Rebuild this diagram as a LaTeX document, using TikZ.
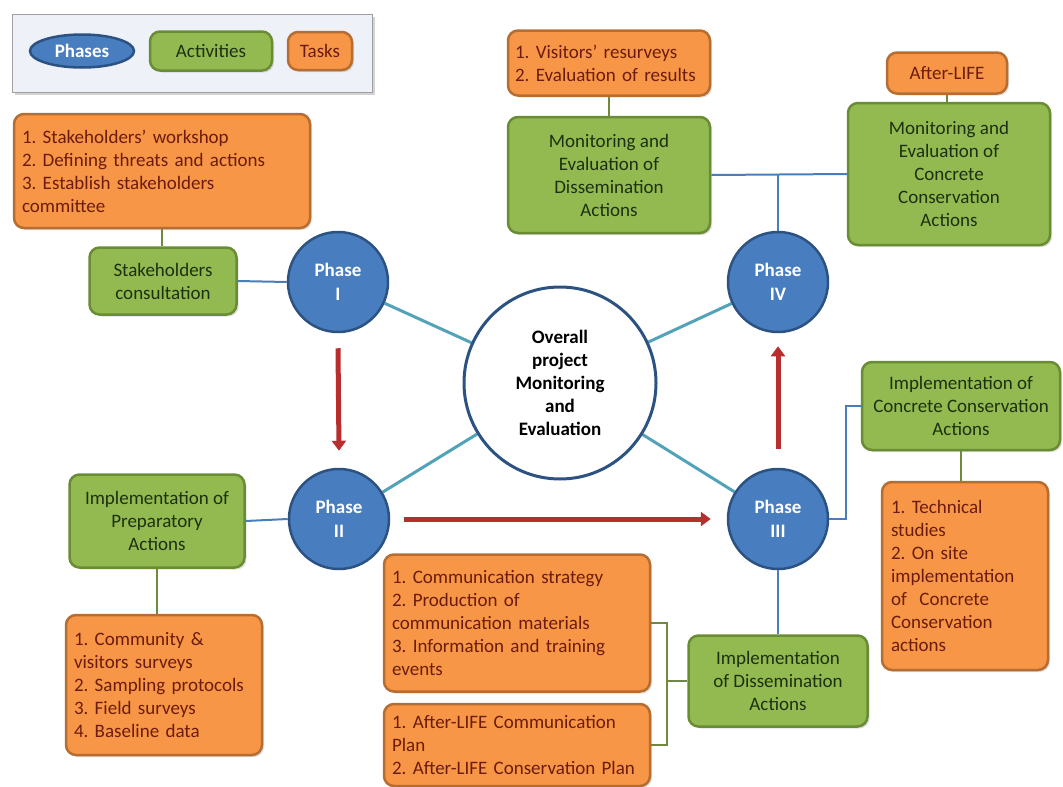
\documentclass[tikz,border=0pt]{standalone}
\usepackage{fontspec}
\setmainfont{Carlito}
\frenchspacing
\usetikzlibrary{arrows.meta,shadows,shapes.geometric,backgrounds}

\definecolor{phasefill}{RGB}{72,126,192}
\definecolor{phaseline}{RGB}{44,82,130}
\definecolor{actfill}{RGB}{146,186,80}
\definecolor{actline}{RGB}{106,140,52}
\definecolor{acttext}{RGB}{30,48,18}
\definecolor{taskfill}{RGB}{247,150,70}
\definecolor{taskline}{RGB}{182,109,49}
\definecolor{tasktext}{RGB}{108,28,14}
\definecolor{hubline}{RGB}{82,162,186}
\definecolor{flowred}{RGB}{184,46,46}
\definecolor{linkblue}{RGB}{74,126,187}
\definecolor{linkgreen}{RGB}{113,137,63}
\definecolor{legendbg}{RGB}{238,241,248}

\begin{document}
\begin{tikzpicture}[x=1pt,y=-1pt,font=\fontsize{19}{23}\selectfont,
  phase node/.style={circle,fill=phasefill,draw=phaseline,line width=2.5pt,
    minimum size=100pt,inner sep=0pt,text=white,font=\fontsize{19}{24}\selectfont\bfseries,
    align=center},
  act node/.style={rounded corners=10pt,fill=actfill,draw=actline,line width=2.5pt,
    text=acttext,align=center,inner sep=2pt,
    drop shadow={opacity=0.25,shadow xshift=2pt,shadow yshift=-2pt}},
  task node/.style={rounded corners=10pt,fill=taskfill,draw=taskline,line width=2.5pt,
    text=tasktext,align=left,inner sep=2pt,
    drop shadow={opacity=0.25,shadow xshift=2pt,shadow yshift=-2pt}},
  link/.style={draw=linkblue,line width=2pt},
  tasklink/.style={draw=linkgreen,line width=2.5pt},
  hub/.style={draw=hubline,line width=3pt},
  flow/.style={draw=flowred,line width=5pt,-{Triangle[length=10pt,width=14pt]}}]

  \useasboundingbox (0,0) rectangle (1063,787);

  % legend
  \node[draw=gray!75,fill=legendbg,line width=1pt,minimum width=360pt,minimum height=78pt,
    drop shadow={opacity=0.35,shadow xshift=3pt,shadow yshift=-3pt}] (legend) at (192,53) {};
  \node[ellipse,fill=phasefill,draw=phaseline,line width=2.5pt,minimum width=104pt,minimum height=33pt,
    inner sep=0pt,text=white,font=\fontsize{19}{20}\selectfont\bfseries] (lgphase) at (82,51) {Phases};
  \node[act node,minimum width=122pt,minimum height=39pt] (lgact) at (211,51) {Activities};
  \node[task node,minimum width=64pt,minimum height=38pt,align=center] (lgtask) at (320,51) {Tasks};

  % phases and hub
  \node[phase node] (PI) at (338,282) {Phase\\I};
  \node[phase node] (PII) at (339,519) {Phase\\II};
  \node[phase node] (PIII) at (778,519) {Phase\\III};
  \node[phase node] (PIV) at (778,282) {Phase\\IV};
  \node[circle,fill=white,draw=phaseline,line width=3pt,minimum size=192pt,inner sep=0pt,
    align=center,font=\fontsize{19}{23}\selectfont\bfseries] (hub) at (560,383)
    {Overall\\project\\Monitoring\\and\\Evaluation};

  % activities
  \node[act node,minimum width=147pt,minimum height=67pt] (A1) at (163,281)
    {Stakeholders\\consultation};
  \node[act node,minimum width=175pt,minimum height=93pt] (A2) at (157,521)
    {Implementation of\\Preparatory\\Actions};
  \node[act node,minimum width=179pt,minimum height=91pt] (A3) at (778,681)
    {Implementation\\of Dissemination\\Actions};
  \node[act node,minimum width=198pt,minimum height=88pt] (A4) at (961,406)
    {Implementation of\\Concrete Conservation\\Actions};
  \node[act node,minimum width=202pt,minimum height=116pt] (A5) at (609,175)
    {Monitoring and\\Evaluation of\\Dissemination\\Actions};
  \node[act node,minimum width=202pt,minimum height=142pt] (A6) at (949,174)
    {Monitoring and\\Evaluation of\\Concrete\\Conservation\\Actions};

  % tasks
  \node[task node,minimum width=296pt,minimum height=114pt,text width=280pt] (T1) at (162,171)
    {1. Stakeholders’ workshop\\2. Defining threats and actions\\3. Establish stakeholders\\committee};
  \node[task node,minimum width=196pt,minimum height=140pt,text width=180pt] (T2) at (164,685)
    {1. Community \&\\visitors surveys\\2. Sampling protocols\\3. Field surveys\\4. Baseline data};
  \node[task node,minimum width=266pt,minimum height=137pt,text width=250pt] (T3a) at (517,623)
    {1. Communication strategy\\2. Production of\\communication materials\\3. Information and training\\events};
  \node[task node,minimum width=266pt,minimum height=82pt,text width=250pt] (T3b) at (517,745)
    {1. After-LIFE Communication\\Plan\\2. After-LIFE Conservation Plan};
  \node[task node,minimum width=166pt,minimum height=188pt,text width=148pt] (T4) at (965,576)
    {1. Technical\\studies\\2. On site\\implementation\\of~ Concrete\\Conservation\\actions};
  \node[task node,minimum width=202pt,minimum height=65pt,text width=188pt] (T5) at (609,63)
    {1. Visitors’ resurveys\\2. Evaluation of results};
  \node[task node,minimum width=120pt,minimum height=41pt,align=center] (T6) at (947,73)
    {After-LIFE};

  % connectors
  \coordinate (brk) at (667,681);
  \coordinate (elb) at (846,519);
  \coordinate (topjoin) at (778,174);

  \begin{scope}[on background layer]
  \draw[hub] (PI) -- (hub);
  \draw[hub] (PII) -- (hub);
  \draw[hub] (PIII) -- (hub);
  \draw[hub] (PIV) -- (hub);
  \end{scope}

  \draw[link] (A1.east) -- (PI.west);
  \draw[link] (A2.east) -- (PII.west);
  \draw[link] (PIII.south) -- (A3.north);
  \draw[link] (PIII.east) -- (elb) |- (A4.west);
  \draw[link] (A5.east) -- (A6.west);
  \draw[link] (topjoin) -- (PIV.north);

  \draw[tasklink] (T1.south) -- (T1.south |- A1.north);
  \draw[tasklink] (A2.south) -- (A2.south |- T2.north);
  \draw[tasklink] (A4.south) -- (A4.south |- T4.north);
  \draw[tasklink] (T5.south) -- (T5.south |- A5.north);
  \draw[tasklink] (T6.south) -- (T6.south |- A6.north);
  \draw[tasklink] (T3a.east) -| (brk);
  \draw[tasklink] (T3b.east) -| (brk);
  \draw[tasklink] (brk) -- (A3.west);

  \draw[flow] ([yshift=-15pt]PI.south) -- ([yshift=17pt]PII.north);
  \draw[flow] ([xshift=14pt]PII.east) -- ([xshift=-16pt]PIII.west);
  \draw[flow] ([yshift=19pt]PIII.north) -- ([yshift=-13pt]PIV.south);
\end{tikzpicture}
\end{document}
